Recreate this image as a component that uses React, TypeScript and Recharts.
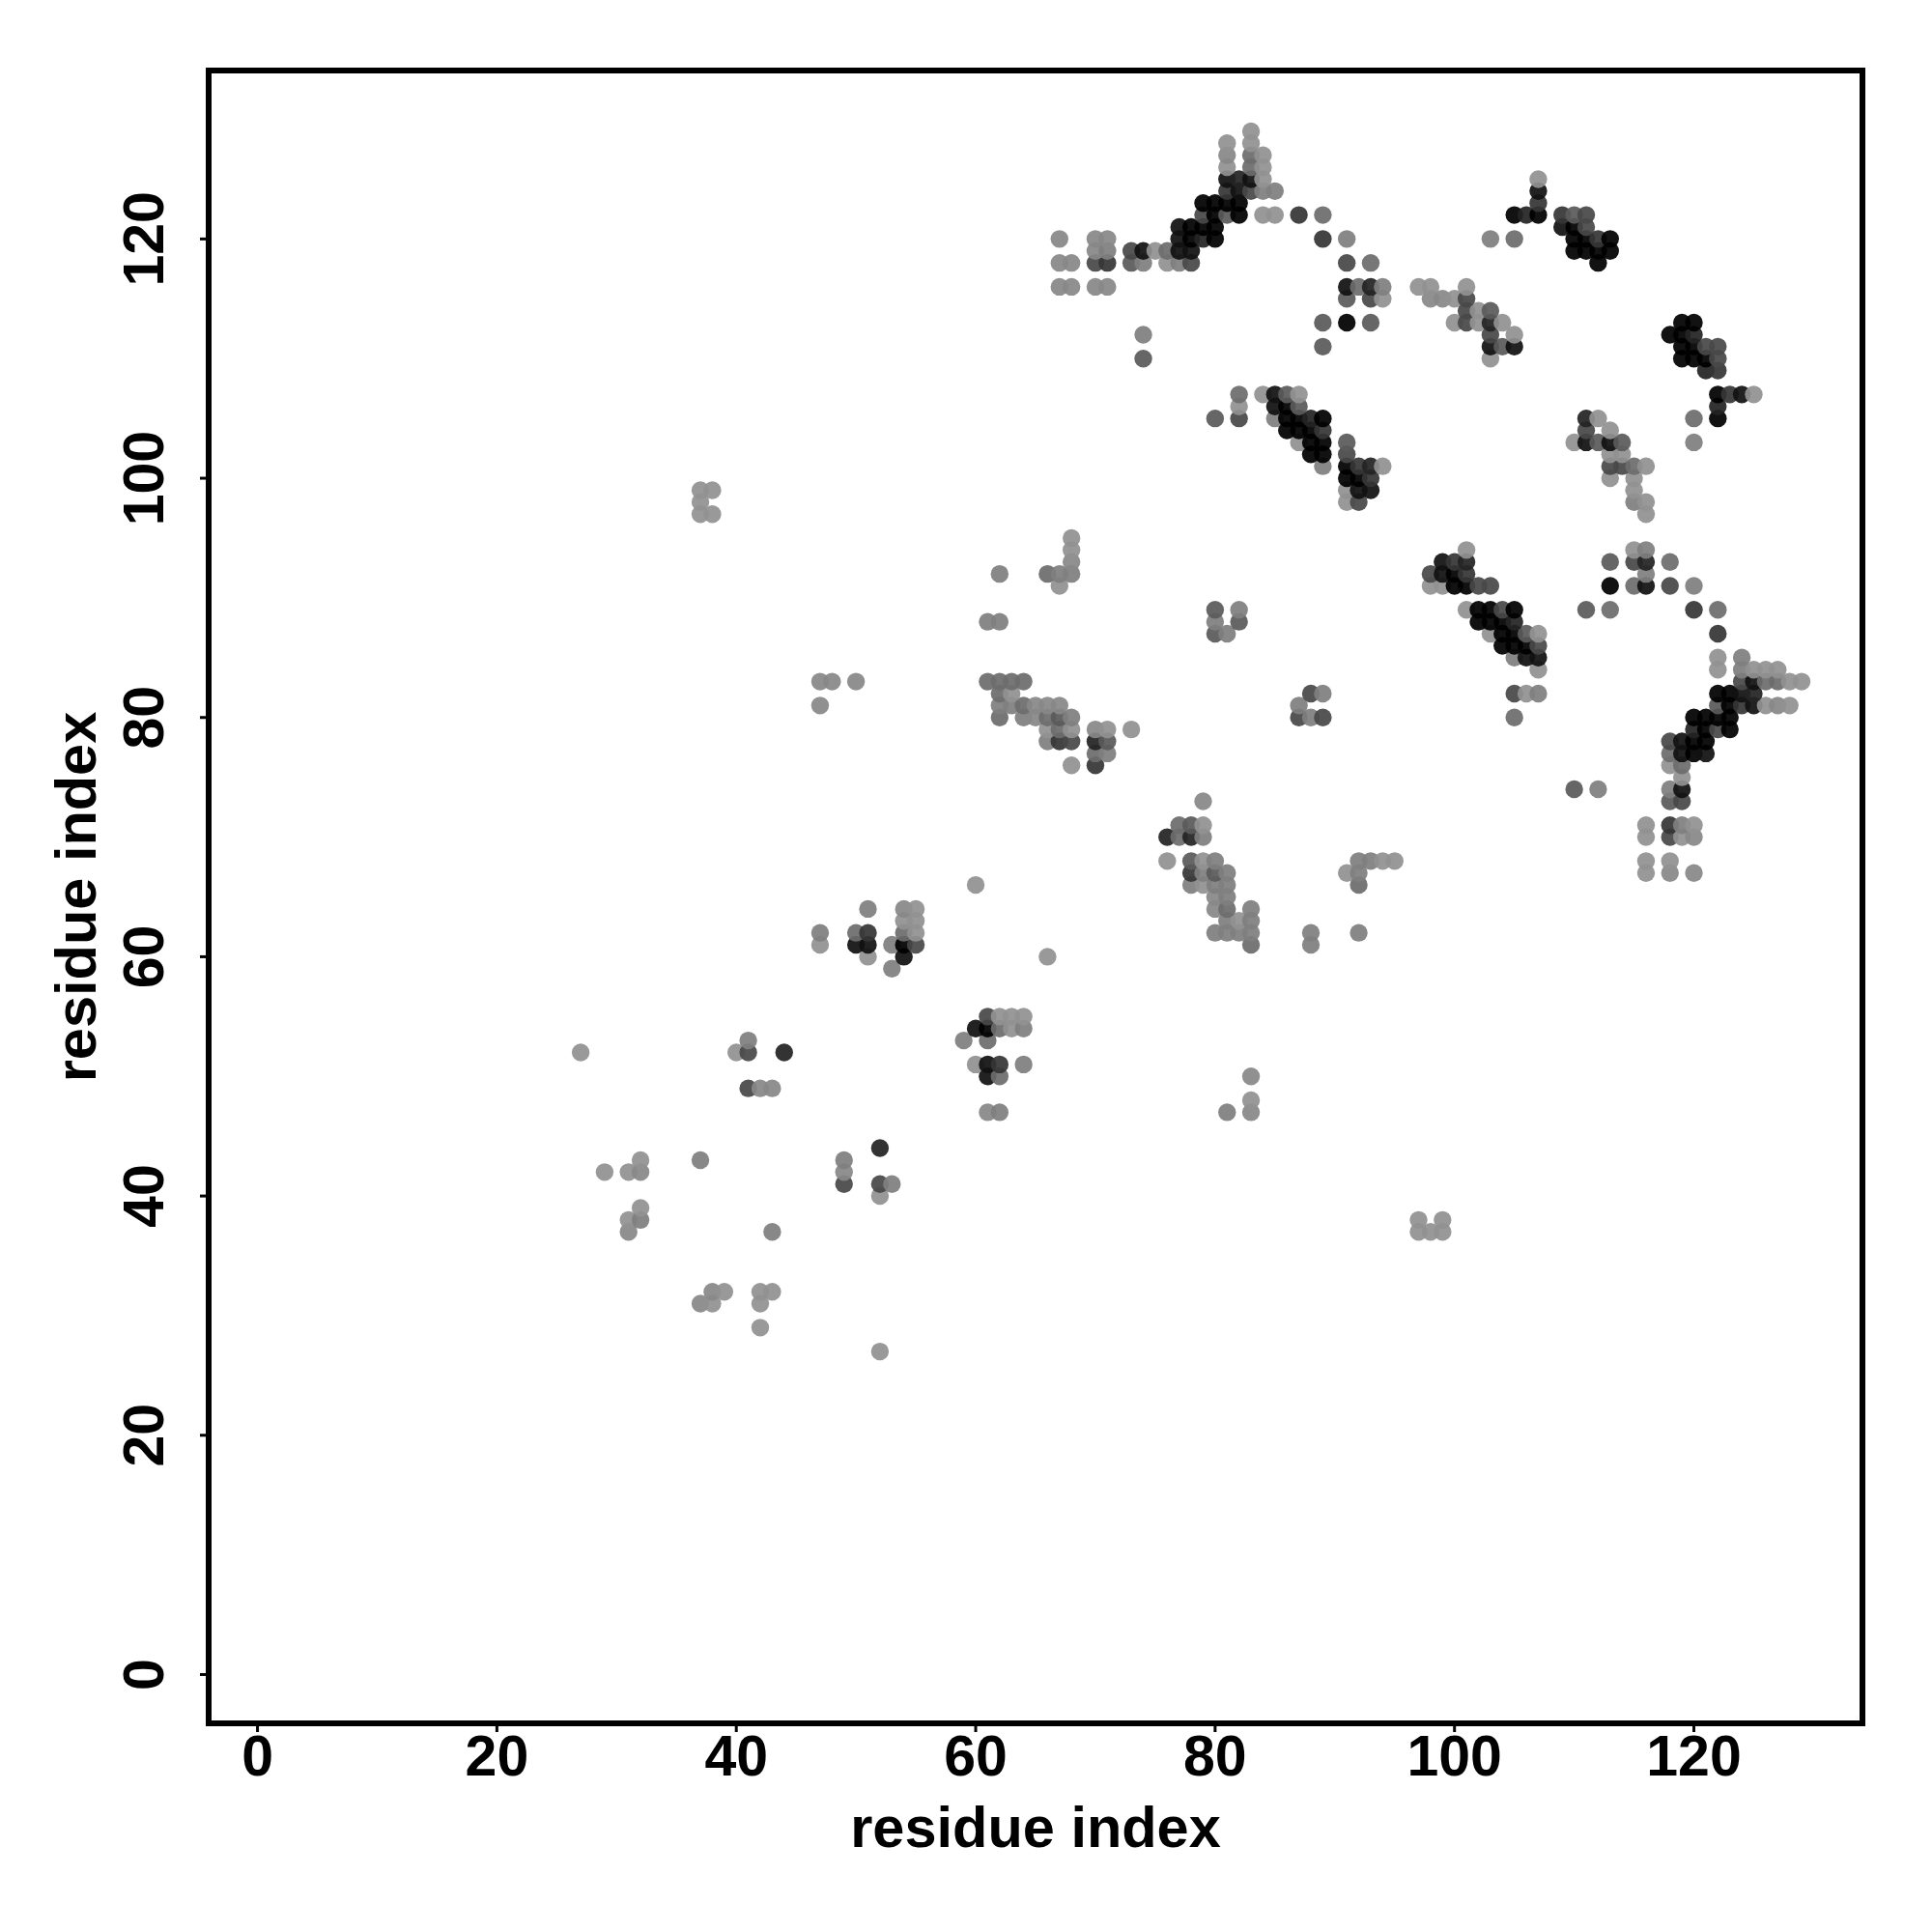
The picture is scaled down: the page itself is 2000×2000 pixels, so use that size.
import { ScatterChart, Scatter, XAxis, YAxis, ReferenceArea } from "recharts";

const xDomain = [-4.08, 134.08];
const yDomain = [-4.08, 134.08];
const axisTicks = [0, 20, 40, 60, 80, 100, 120];
const axisTitle = "residue index";

// one entry per row of the map: y residue, the x residues in it, and how strong each contact looks
const rowY = [
  27, 29, 31, 32, 37, 38, 39, 40, 41, 42, 43, 44, 47, 48, 49, 50, 51, 52, 53, 54, 55, 59, 60, 61, 62, 63, 64, 65, 66, 67,
  68, 70, 71, 73, 74, 75, 76, 77, 78, 79, 80, 81, 82, 83, 84, 85, 86, 87, 88, 89, 91, 92, 93, 94, 95, 97, 98, 99, 100,
  101, 102, 103, 104, 105, 106, 107, 109, 110, 111, 112, 113, 114, 115, 116, 118, 119, 120, 121, 122, 123, 124, 125,
  126, 127, 128, 129,
];

const rowX = [
  [52],
  [42],
  [37, 38, 42],
  [38, 39, 42, 43],
  [31, 43, 97, 98, 99],
  [31, 32, 97, 99],
  [32],
  [52],
  [49, 52, 53],
  [29, 31, 32, 49],
  [32, 37, 49],
  [52],
  [61, 62, 81, 83],
  [83],
  [41, 42, 43],
  [61, 62, 83],
  [60, 61, 62, 64],
  [27, 40, 41, 44],
  [41, 59, 61],
  [60, 61, 62, 63, 64],
  [61, 62, 63, 64],
  [53],
  [51, 54, 66],
  [47, 50, 51, 53, 54, 55, 83, 88],
  [47, 50, 51, 54, 55, 80, 81, 82, 83, 88, 92],
  [54, 55, 81, 82, 83],
  [51, 54, 55, 80, 81, 83],
  [80, 81],
  [60, 78, 79, 80, 81, 92],
  [78, 79, 80, 81, 91, 92, 116, 118, 120],
  [76, 78, 79, 80, 92, 93, 94, 95, 116, 118],
  [76, 77, 78, 79, 116, 118, 119, 120],
  [77, 78, 79, 116, 118, 119, 120],
  [79, 118, 119],
  [110, 112, 118, 119],
  [119],
  [68, 70, 118, 119],
  [70, 71, 118, 119, 120, 121],
  [66, 67, 68, 70, 71, 118, 119, 120, 121],
  [66, 67, 68, 70, 71, 73, 120, 121, 122, 123],
  [62, 64, 65, 66, 67, 68, 87, 88, 89, 105, 120, 121, 122, 123],
  [47, 62, 63, 64, 65, 66, 67, 87, 122, 123, 124, 125, 126, 127, 128],
  [62, 63, 88, 89, 105, 106, 107, 122, 123, 124, 125],
  [47, 48, 50, 61, 62, 63, 64, 124, 125, 126, 127, 128, 129],
  [107, 122, 124, 125, 126, 127],
  [105, 106, 107, 122, 124],
  [104, 105, 106, 107],
  [80, 81, 103, 104, 105, 106, 107, 122],
  [61, 62, 80, 82, 102, 103, 104, 105],
  [80, 82, 101, 102, 103, 104, 105, 111, 113, 120, 122],
  [67, 98, 99, 100, 101, 102, 103, 113, 115, 116, 118, 120],
  [62, 66, 67, 68, 98, 99, 100, 101, 116],
  [68, 99, 100, 101, 113, 115, 116, 118],
  [68, 101, 115, 116],
  [68],
  [37, 38, 116],
  [37, 91, 92, 115, 116],
  [37, 38, 91, 92, 93, 115],
  [91, 92, 93, 113, 115],
  [89, 91, 92, 93, 94, 113, 114, 115, 116],
  [88, 89, 91, 113, 114],
  [87, 88, 89, 91, 110, 111, 112, 113, 114, 120],
  [86, 87, 88, 89, 111, 113],
  [80, 82, 85, 86, 87, 88, 89, 111, 112, 120, 122],
  [82, 85, 86, 87, 122],
  [82, 84, 85, 86, 87, 122, 123, 124, 125],
  [121, 122],
  [74, 103, 119, 120, 121, 122],
  [89, 103, 104, 105, 119, 120, 121, 122],
  [74, 103, 105, 118, 119, 120],
  [89, 91, 93, 100, 101, 102, 103, 104, 119, 120],
  [101, 102, 103],
  [91, 93, 94, 98, 99, 100, 101],
  [67, 68, 70, 71, 91, 92, 93, 94, 97, 98, 101],
  [67, 68, 70, 71, 73, 74, 76, 77, 78, 91, 93, 112],
  [70, 71, 73, 74, 75, 76, 77, 78, 110, 111, 112, 113],
  [67, 70, 71, 77, 78, 79, 80, 89, 91, 103, 105, 110, 111, 112, 113],
  [77, 78, 79, 80, 109, 110, 111],
  [79, 80, 81, 82, 84, 85, 87, 89, 105, 106, 107, 109, 110, 111],
  [79, 80, 81, 82, 107],
  [81, 82, 83, 84, 85, 107],
  [81, 82, 83, 84, 107],
  [81, 83, 84],
  [81, 83, 84],
  [81, 83],
  [83],
];

const rowStrength = [
  [1],
  [1],
  [1.5, 1, 1],
  [1.5, 1, 1, 1],
  [1.5, 2, 1, 1, 1],
  [1, 2, 1, 1],
  [1],
  [1],
  [5, 5, 2],
  [1, 1, 1.5, 1.5],
  [1, 2, 2],
  [7],
  [1.5, 2, 2, 1.5],
  [1],
  [5, 1.5, 1.5],
  [8, 3, 1.5],
  [1, 8, 6, 2],
  [1, 1, 5, 7],
  [2, 2, 3],
  [8, 10, 3, 1, 2],
  [5, 1, 1, 1],
  [2],
  [1, 8, 1],
  [1, 8, 8, 2, 10, 5, 3, 2],
  [2, 3, 6, 3, 1, 2, 2, 2, 2, 2, 2],
  [1, 1, 2, 1, 2],
  [2, 1.5, 1, 1.5, 3, 2],
  [1.5, 2],
  [1, 2, 1, 2, 2, 3],
  [6, 2, 4, 2, 1, 2, 1, 1.5, 1.5],
  [1, 4, 1, 2, 2, 2, 1, 1, 1, 1],
  [7, 3, 7, 2, 1, 5, 1, 1.5],
  [3, 4, 1, 1, 6, 2, 1],
  [1.5, 4, 5],
  [4, 2, 2, 8],
  [1],
  [1, 6, 1, 3],
  [3, 2, 3, 8, 9, 8],
  [2, 6, 5, 7, 4, 5, 8, 9.5, 9],
  [1, 3, 1, 1.5, 1, 1, 7, 9.5, 5, 10],
  [3, 2, 1.5, 3, 4, 2, 5, 2, 5, 3, 9.5, 9.5, 9.5, 9.5],
  [1.5, 2, 2, 3, 1.5, 1.5, 1.5, 2, 4, 9.5, 6, 8, 1, 1.5, 1],
  [3, 1, 5, 2, 5, 1, 2, 9.5, 9, 8, 7],
  [1.5, 1.5, 1.5, 3, 3, 3, 3, 5, 8, 3, 3, 1, 1],
  [1, 1, 2, 1, 1, 1],
  [2, 8, 8, 1, 2],
  [9.5, 9.5, 9.5, 5],
  [4, 2, 1, 9.5, 9.5, 4, 1, 6],
  [2, 2, 2, 4, 9.5, 9.5, 9.5, 7],
  [4, 2, 1, 9.5, 9.5, 5, 9, 4, 3, 6, 3],
  [1, 1, 1, 9.5, 9.5, 5, 5, 9, 3, 8, 5, 2],
  [2, 3, 2, 2, 5, 8, 9.5, 6, 2],
  [1.5, 8, 6, 7, 4, 5, 7, 3],
  [1, 1, 1, 2],
  [1],
  [1, 1, 1],
  [1, 1, 5, 2, 1],
  [1, 1, 1, 8, 8, 1],
  [9.5, 9.5, 6, 1, 1],
  [2, 9.5, 6, 7, 1, 5, 5, 3, 1],
  [9.5, 9.5, 5, 1, 1],
  [1, 9.5, 9.5, 4, 1, 8, 4, 8, 4, 2],
  [9.5, 9.5, 9.5, 6, 5, 1],
  [4, 5, 2, 9.5, 9.5, 7, 9, 7, 1, 3, 10],
  [1, 8, 9.5, 4, 7],
  [3, 1, 8, 4, 1, 9, 6, 8, 1],
  [7, 6],
  [4, 1, 10, 9.5, 9.5, 5],
  [4, 8, 4, 8, 9.5, 9.5, 5, 5],
  [2, 5, 1, 9.5, 9, 7],
  [4, 9, 4, 1, 5, 1, 7, 1, 9, 9],
  [5, 1, 4],
  [4, 5, 1, 1.5, 1.5, 1, 5],
  [1.5, 1.5, 1.5, 1.5, 8, 3, 7, 2, 1, 1, 1],
  [1.5, 1.5, 5, 6, 4, 2, 1, 2, 5, 5, 3, 9.5],
  [1.5, 2, 5, 8, 1, 3, 8, 8, 10, 10, 9.5, 9],
  [1.5, 1.5, 1.5, 8, 9.5, 7, 9.5, 6, 2, 2, 3, 9.5, 9.5, 6, 9],
  [8, 9.5, 9.5, 9.5, 8, 9.5, 5],
  [5, 9.5, 4, 9.5, 1, 1, 6, 3, 9.5, 7, 9, 6, 4, 5],
  [9.5, 9.5, 9.5, 9, 6],
  [6, 8, 5, 2, 2, 8],
  [8, 7, 8, 1, 1],
  [1, 3, 1],
  [1.5, 3, 1],
  [1, 1],
  [1],
];

const contacts = rowY.flatMap((y, r) =>
  rowX[r].map((x, c) => ({ x, y, strength: rowStrength[r][c] }))
);

// strength 1 is the palest dot, 10 is black; dots are slightly see-through
const dotOpacity = 0.93;
const dotFill = (strength: number) => {
  const seen = 170 - 17 * strength;
  const grey = Math.max(0, Math.round((seen - 255 * (1 - dotOpacity)) / dotOpacity));
  return `rgb(${grey},${grey},${grey})`;
};

const fontFamily = '"Liberation Sans", Arial, sans-serif';

const XTick = ({ x, y, payload }: any) => (
  <text x={x} y={y + 43} textAnchor="middle" fontFamily={fontFamily} fontSize={59} fontWeight="bold" fill="#000">
    {payload.value}
  </text>
);

const YTick = ({ y, payload }: any) => (
  <text
    x={169}
    y={y}
    textAnchor="middle"
    transform={`rotate(-90 169 ${y})`}
    fontFamily={fontFamily}
    fontSize={59}
    fontWeight="bold"
    fill="#000"
  >
    {payload.value}
  </text>
);

const ContactDot = ({ cx, cy, payload }: any) => (
  <circle cx={cx} cy={cy} r={9.2} fill={dotFill(payload.strength)} fillOpacity={dotOpacity} />
);

const App = () => {
  return (
    <div style={{ position: "absolute", left: 0, top: 0, background: "#fff" }}>
      <ScatterChart width={2000} height={2000} margin={{ top: 73, right: 72, bottom: 0, left: 0 }}>
        <XAxis
          type="number"
          dataKey="x"
          domain={xDomain}
          ticks={axisTicks}
          interval={0}
          height={216}
          axisLine={false}
          tickSize={9}
          tickLine={{ stroke: "#000", strokeWidth: 3 }}
          tick={<XTick />}
          label={{
            value: axisTitle,
            position: "insideBottom",
            offset: 88,
            fontFamily,
            fontSize: 59.5,
            fontWeight: "bold",
            fill: "#000",
          }}
        />
        <YAxis
          type="number"
          dataKey="y"
          domain={yDomain}
          ticks={axisTicks}
          interval={0}
          width={216}
          axisLine={false}
          tickSize={9}
          tickLine={{ stroke: "#000", strokeWidth: 3 }}
          tick={<YTick />}
          label={{
            value: axisTitle,
            angle: -90,
            position: "insideLeft",
            textAnchor: "middle",
            offset: 78,
            fontFamily,
            fontSize: 59.5,
            fontWeight: "bold",
            fill: "#000",
          }}
        />
        <ReferenceArea
          x1={xDomain[0]}
          x2={xDomain[1]}
          y1={yDomain[0]}
          y2={yDomain[1]}
          fill="none"
          stroke="#000"
          strokeWidth={6}
          ifOverflow="visible"
        />
        <Scatter data={contacts} isAnimationActive={false} shape={<ContactDot />} />
      </ScatterChart>
    </div>
  );
};

export default App;
